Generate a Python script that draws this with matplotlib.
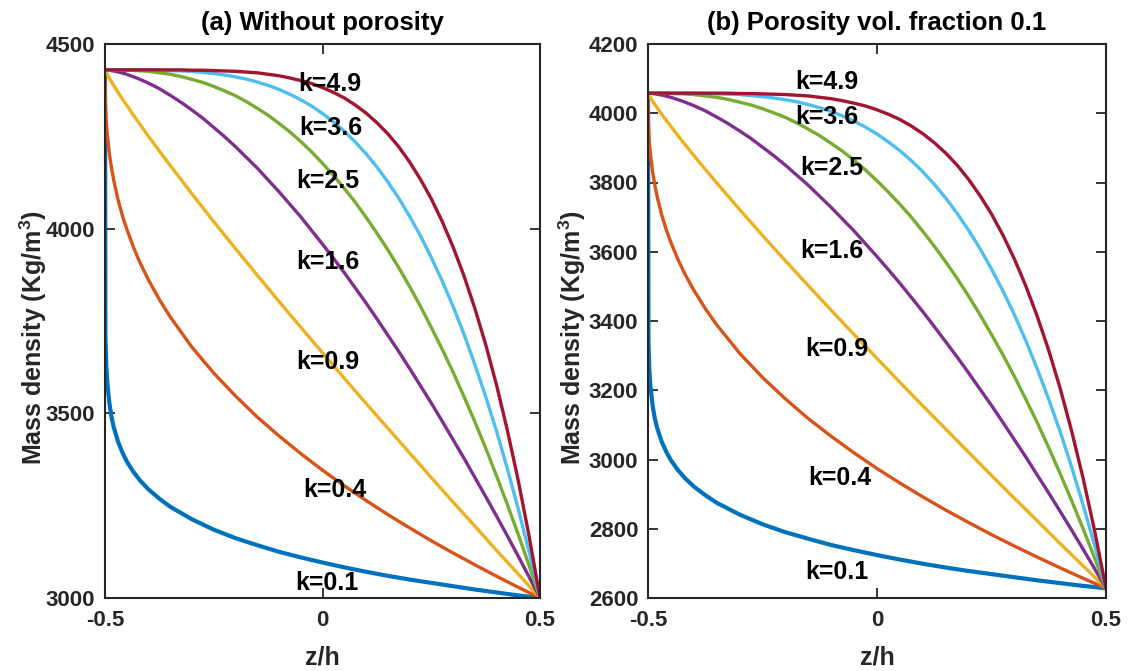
import matplotlib
matplotlib.use("Agg")
import matplotlib.pyplot as plt

plt.rcParams['font.family'] = ['Liberation Sans', 'DejaVu Sans']
plt.rcParams['font.weight'] = 'bold'
plt.rcParams['mathtext.fontset'] = 'custom'
plt.rcParams['mathtext.bf'] = 'Liberation Sans:bold'
plt.rcParams['mathtext.rm'] = 'Liberation Sans:bold'

# ---------------- data ----------------
# z/h sample positions used for the low-exponent curves (k = 0.1, 0.4, 0.9)
z_low = [-0.5, -0.499, -0.497, -0.495, -0.49, -0.485, -0.48, -0.47, -0.46, -0.45, -0.435,
         -0.42, -0.4, -0.375, -0.35, -0.3, -0.25, -0.2, -0.15, -0.1, -0.05, 0.0, 0.05, 0.1,
         0.15, 0.2, 0.25, 0.3, 0.35, 0.4, 0.45, 0.5]
# z/h sample positions used for the high-exponent curves (k = 1.6, 2.5, 3.6, 4.9)
z_high = [-0.5, -0.49, -0.48, -0.465, -0.45, -0.425, -0.4, -0.375, -0.35, -0.325, -0.3,
          -0.275, -0.25, -0.225, -0.2, -0.175, -0.15, -0.125, -0.1, -0.075, -0.05, -0.025,
          0.0, 0.025, 0.05, 0.075, 0.1, 0.125, 0.15, 0.175, 0.2, 0.225, 0.25, 0.275, 0.3,
          0.325, 0.35, 0.375, 0.4, 0.425, 0.45, 0.475, 0.5]

k_labels = ["k=0.1", "k=0.4", "k=0.9", "k=1.6", "k=2.5", "k=3.6", "k=4.9"]

# (a) Without porosity
rho_a_k01 = [4430, 3713, 3630, 3588, 3528, 3490, 3463, 3423, 3394, 3370, 3342, 3319, 3294, 3269,
             3247, 3213, 3185, 3162, 3143, 3125, 3110, 3096, 3083, 3071, 3060, 3050, 3041, 3032,
             3023, 3015, 3007, 3000]
rho_a_k04 = [4430, 4340, 4290, 4258, 4203, 4164, 4131, 4078, 4035, 3999, 3951, 3909, 3861, 3808,
             3761, 3679, 3609, 3547, 3490, 3439, 3391, 3346, 3304, 3264, 3226, 3190, 3155, 3122,
             3090, 3059, 3029, 3000]
rho_a_k09 = [4430, 4427, 4422, 4418, 4407, 4397, 4388, 4369, 4351, 4334, 4308, 4283, 4250, 4210,
             4171, 4094, 4019, 3946, 3874, 3803, 3733, 3664, 3595, 3527, 3460, 3393, 3326, 3260,
             3195, 3129, 3065, 3000]
rho_a_k16 = [4430, 4429, 4427, 4423, 4418, 4407, 4394, 4379, 4361, 4342, 4321, 4299, 4274, 4249,
             4222, 4193, 4164, 4132, 4100, 4066, 4032, 3995, 3958, 3920, 3881, 3840, 3799, 3756,
             3712, 3668, 3622, 3575, 3528, 3479, 3429, 3379, 3327, 3275, 3222, 3168, 3113, 3057,
             3000]
rho_a_k25 = [4430, 4430, 4430, 4430, 4429, 4428, 4426, 4422, 4418, 4412, 4404, 4396, 4385, 4373,
             4360, 4344, 4326, 4307, 4285, 4262, 4236, 4208, 4177, 4144, 4109, 4072, 4031, 3988,
             3943, 3895, 3844, 3790, 3733, 3674, 3612, 3546, 3478, 3406, 3331, 3253, 3172, 3088,
             3000]
rho_a_k36 = [4430, 4430, 4430, 4430, 4430, 4430, 4430, 4429, 4428, 4427, 4426, 4423, 4420, 4416,
             4411, 4405, 4397, 4388, 4377, 4364, 4349, 4332, 4312, 4289, 4264, 4235, 4203, 4167,
             4127, 4083, 4034, 3981, 3922, 3859, 3790, 3715, 3633, 3546, 3452, 3350, 3241, 3125,
             3000]
rho_a_k49 = [4430, 4430, 4430, 4430, 4430, 4430, 4430, 4430, 4430, 4430, 4429, 4429, 4428, 4427,
             4426, 4424, 4422, 4418, 4414, 4408, 4401, 4393, 4382, 4369, 4354, 4335, 4313, 4287,
             4257, 4222, 4181, 4134, 4081, 4020, 3951, 3873, 3785, 3687, 3577, 3454, 3318, 3167,
             3000]

# (b) Porosity volume fraction 0.1
rho_b_k01 = [4058, 3341, 3258, 3216, 3156, 3118, 3091, 3051, 3022, 2998, 2970, 2947, 2922, 2897,
             2875, 2841, 2813, 2790, 2771, 2753, 2738, 2724, 2711, 2699, 2688, 2678, 2669, 2660,
             2651, 2643, 2635, 2628]
rho_b_k04 = [4058, 3968, 3918, 3886, 3831, 3792, 3759, 3706, 3663, 3627, 3579, 3537, 3489, 3436,
             3389, 3307, 3237, 3175, 3118, 3067, 3019, 2974, 2932, 2892, 2854, 2818, 2783, 2750,
             2718, 2687, 2657, 2628]
rho_b_k09 = [4058, 4055, 4050, 4046, 4035, 4025, 4016, 3997, 3979, 3962, 3936, 3911, 3878, 3838,
             3799, 3722, 3647, 3574, 3502, 3431, 3361, 3292, 3223, 3155, 3088, 3021, 2954, 2888,
             2823, 2757, 2693, 2628]
rho_b_k16 = [4058, 4057, 4055, 4051, 4046, 4035, 4022, 4007, 3989, 3970, 3949, 3927, 3902, 3877,
             3850, 3821, 3792, 3760, 3728, 3694, 3660, 3623, 3586, 3548, 3509, 3468, 3427, 3384,
             3340, 3296, 3250, 3203, 3156, 3107, 3057, 3007, 2955, 2903, 2850, 2796, 2741, 2685,
             2628]
rho_b_k25 = [4058, 4058, 4058, 4058, 4057, 4056, 4054, 4050, 4046, 4040, 4032, 4024, 4013, 4001,
             3988, 3972, 3954, 3935, 3913, 3890, 3864, 3836, 3805, 3772, 3737, 3700, 3659, 3616,
             3571, 3523, 3472, 3418, 3361, 3302, 3240, 3174, 3106, 3034, 2959, 2881, 2800, 2716,
             2628]
rho_b_k36 = [4058, 4058, 4058, 4058, 4058, 4058, 4058, 4057, 4056, 4055, 4054, 4051, 4048, 4044,
             4039, 4033, 4025, 4016, 4005, 3992, 3977, 3960, 3940, 3917, 3892, 3863, 3831, 3795,
             3755, 3711, 3662, 3609, 3550, 3487, 3418, 3343, 3261, 3174, 3080, 2978, 2869, 2753,
             2628]
rho_b_k49 = [4058, 4058, 4058, 4058, 4058, 4058, 4058, 4058, 4058, 4058, 4057, 4057, 4056, 4055,
             4054, 4052, 4050, 4046, 4042, 4036, 4029, 4021, 4010, 3997, 3982, 3963, 3941, 3915,
             3885, 3850, 3809, 3762, 3709, 3648, 3579, 3501, 3413, 3315, 3205, 3082, 2946, 2795,
             2628]

# label anchor positions (z, rho)
lab_a_z = [-0.063, -0.045, -0.061, -0.061, -0.061, -0.054, -0.056]
lab_a_rho = [3041, 3292, 3639, 3910, 4129, 4273, 4392]
lab_b_z = [-0.157, -0.151, -0.157, -0.168, -0.168, -0.179, -0.179]
lab_b_rho = [2675, 2947, 3319, 3602, 3842, 3989, 4090]

titles = ["(a) Without porosity", "(b) Porosity vol. fraction 0.1"]
xticks = [-0.5, 0, 0.5]
xticklabels = ["-0.5", "0", "0.5"]
yticks_a = [3000, 3500, 4000, 4500]
yticks_b = [2600, 2800, 3000, 3200, 3400, 3600, 3800, 4000, 4200]

colors = ['#0072BD', '#D95319', '#EDB120', '#7E2F8E', '#77AC30', '#4DBEEE', '#A2142F']

series_a = [rho_a_k01, rho_a_k04, rho_a_k09, rho_a_k16, rho_a_k25, rho_a_k36, rho_a_k49]
series_b = [rho_b_k01, rho_b_k04, rho_b_k09, rho_b_k16, rho_b_k25, rho_b_k36, rho_b_k49]
z_for = [z_low, z_low, z_low, z_high, z_high, z_high, z_high]

fig = plt.figure(figsize=(11.35, 6.71), dpi=100)
W, H = 1135, 671
ax_a = fig.add_axes([105 / W, (H - 598) / H, 435 / W, 554 / H])
ax_b = fig.add_axes([648 / W, (H - 598) / H, 458 / W, 554 / H])

axc = '#262626'
panels = [
    (ax_a, series_a, lab_a_z, lab_a_rho, yticks_a, (3000, 4500), titles[0]),
    (ax_b, series_b, lab_b_z, lab_b_rho, yticks_b, (2600, 4200), titles[1]),
]
for ax, series, lz, lr, yt, ylim, title in panels:
    for i, s in enumerate(series):
        lw = 3.0 if i == 0 else 2.4
        ax.plot(z_for[i], s, color=colors[i], lw=lw, solid_joinstyle='round', zorder=2)
    for i, lab in enumerate(k_labels):
        ax.text(lz[i], lr[i], lab, ha='left', va='center', fontsize=18,
                fontweight='bold', color='black', zorder=3)
    ax.set_xlim(-0.5, 0.5)
    ax.set_ylim(*ylim)
    ax.set_xticks(xticks)
    ax.set_xticklabels(xticklabels)
    ax.set_yticks(yt)
    ax.tick_params(direction='in', length=7, width=1.3, top=True, right=True,
                   labelsize=16, colors=axc)
    ax.tick_params(axis='x', pad=9)
    ax.tick_params(axis='y', pad=7)
    for lab in ax.get_xticklabels() + ax.get_yticklabels():
        lab.set_fontweight('bold')
    for sp in ax.spines.values():
        sp.set_linewidth(1.5)
        sp.set_color(axc)
    ax.set_xlabel('z/h', fontsize=18, fontweight='bold', color=axc)
    ax.set_ylabel('Mass density (Kg/m$^{\\mathbf{3}}$)', fontsize=18, fontweight='bold',
                  color=axc)
    ax.set_title(title, fontsize=18.5, fontweight='bold', color='black', pad=10)

ax_a.xaxis.set_label_coords(0.5, -0.086)
ax_b.xaxis.set_label_coords(0.5, -0.086)
ax_a.yaxis.set_label_coords(-0.129, 0.47)
ax_b.yaxis.set_label_coords(-0.131, 0.47)

fig.savefig('out.png', dpi=100)
